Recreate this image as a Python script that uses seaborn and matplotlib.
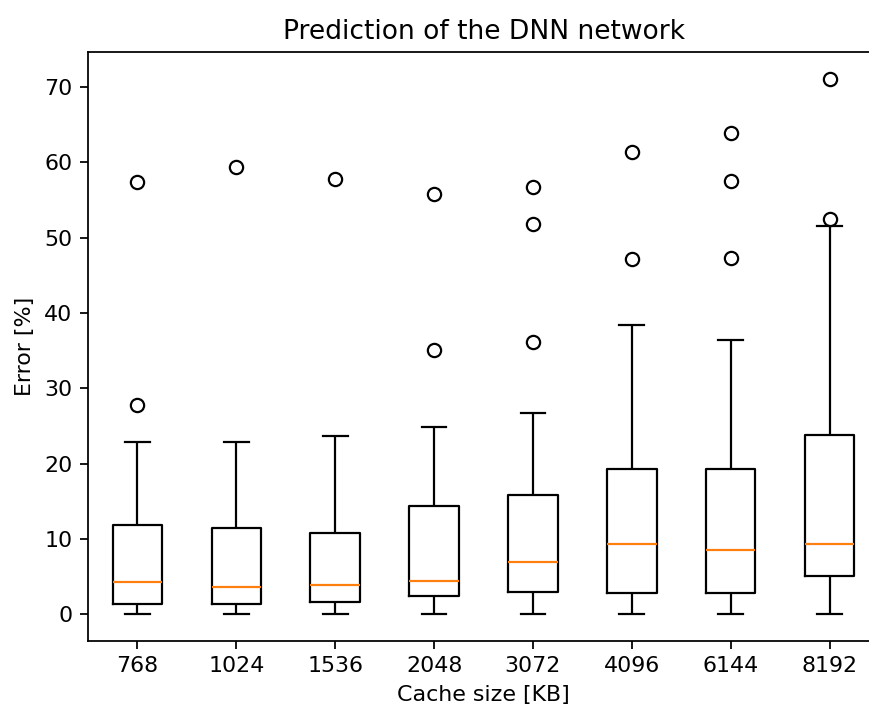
import pandas as pd
import matplotlib
matplotlib.use("Agg")
import matplotlib.pyplot as plt
import seaborn as sns

# values (error in %)
cache_sizes = ["768", "1024", "1536", "2048", "3072", "4096", "6144", "8192"]
whisker_low = [0.0, 0.0, 0.0, 0.0, 0.0, 0.0, 0.0, 0.0]
q1 = [1.41, 1.32, 1.59, 2.43, 3.00, 2.82, 2.82, 5.12]
median = [4.28, 3.62, 3.88, 4.45, 6.97, 9.35, 8.51, 9.35]
q3 = [11.87, 11.47, 10.80, 14.38, 15.88, 19.28, 19.28, 23.75]
whisker_high = [22.85, 22.85, 23.60, 24.80, 26.69, 38.37, 36.39, 51.55]
outliers = [
    [27.75, 57.34],
    [59.41],
    [57.74],
    [35.10, 55.80],
    [36.13, 51.87, 56.68],
    [47.15, 61.31],
    [47.33, 57.52, 63.87],
    [52.49, 71.06],
]

# long table: each summary value repeated so the quartiles land exactly on them
rows = []
for i, size in enumerate(cache_sizes):
    core = [whisker_low[i], q1[i], median[i], q3[i], whisker_high[i]]
    for v in core:
        rows += [(size, v)] * 10
    for v in outliers[i]:
        rows.append((size, v))
df = pd.DataFrame(rows, columns=["cache", "error"])

dpi = 159
W, H = 869, 709
fig = plt.figure(figsize=(W / dpi, H / dpi), dpi=dpi)
# axes runs a little past the right edge, as in the reference crop
ax = fig.add_axes([88 / W, (H - 641) / H, 791 / W, (641 - 52.3) / H])

sns.boxplot(
    data=df, x="cache", y="error", order=cache_sizes, ax=ax,
    fill=False, color="black", width=0.5, linewidth=1, whis=1.5,
    medianprops={"color": "C1", "linewidth": 1},
    flierprops={"marker": "o", "markersize": 6, "markerfacecolor": "none",
                "markeredgecolor": "black", "markeredgewidth": 1},
)

ax.set_xlim(-0.5, len(cache_sizes) - 0.5)
ax.spines["right"].set_visible(False)  # cut off in the reference
ax.set_xlabel("Cache size [KB]")
ax.set_ylabel("Error [%]")
ax.set_title("Prediction of the DNN network")

fig.savefig("out.png", dpi=dpi)
